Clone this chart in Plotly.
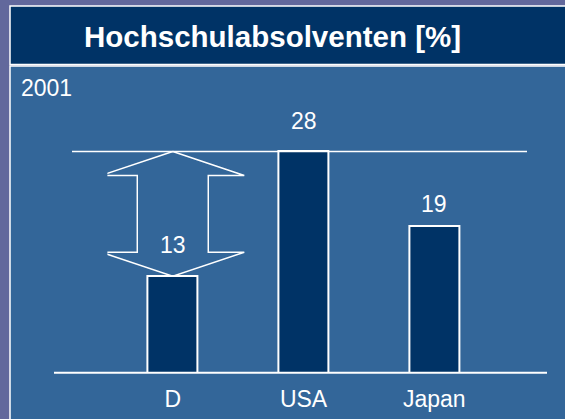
import plotly.graph_objects as go

# ---- data ----
categories = ["D", "USA", "Japan"]
values = [13, 28, 19]
title_text = "Hochschulabsolventen [%]"
year_label = "2001"

# ---- style / layout constants ----
W, H = 565, 419
BG_OUT = "rgb(98,104,156)"
BOX = "#336699"
NAVY = "#003366"
WHITE = "white"
FONT = "Liberation Sans, Arial, sans-serif"
label_shift = {"D": 31, "USA": 30, "Japan": 22}   # value-label offsets above bars (px)

def fx(p):
    return p / W

def fy(p):
    return 1 - p / H

# plot-area geometry (pixels)
x_left_px, x_right_px = 107.4, 499.7
y_bot_px, y_top_px = 372.7, 100.0
y_min = 1.4
px_per_unit = 8.316
y_max = y_min + (y_bot_px - y_top_px) / px_per_unit
px_per_cat = (x_right_px - x_left_px) / 3.0

xs = list(range(len(categories)))

fig = go.Figure()

fig.add_trace(go.Bar(
    x=xs, y=values, width=50 / px_per_cat,
    marker=dict(color=NAVY, line=dict(color=WHITE, width=2)),
    hoverinfo="skip", showlegend=False,
))

# double-headed arrow between D and USA
i_lo = categories.index("D")
i_hi = categories.index("USA")
bot = values[i_lo]
top = values[i_hi]
hh = 24 / px_per_unit          # head height in data units
ww = 71.5 / px_per_cat         # head half width
sw = 35.5 / px_per_cat         # shaft half width
cx = xs[i_lo]
ax = [cx, cx + ww, cx + sw, cx + sw, cx + ww, cx, cx - ww, cx - sw, cx - sw, cx - ww, cx]
ay = [top, top - hh, top - hh, bot + hh, bot + hh, bot, bot + hh, bot + hh, top - hh, top - hh, top]
fig.add_trace(go.Scatter(
    x=ax, y=ay, mode="lines", fill="toself", fillcolor="rgba(0,0,0,0)",
    line=dict(color=WHITE, width=1.5), hoverinfo="skip", showlegend=False,
))

shapes = [
    # title bar
    dict(type="rect", xref="paper", yref="paper", x0=fx(10), x1=fx(575), y0=fy(64.5), y1=fy(6),
         fillcolor=NAVY, line=dict(color=WHITE, width=1.5), layer="below"),
    # main box
    dict(type="rect", xref="paper", yref="paper", x0=fx(10), x1=fx(575), y0=fy(430), y1=fy(66),
         fillcolor=BOX, line=dict(color=WHITE, width=1.5), layer="below"),
    # baseline
    dict(type="line", xref="paper", yref="paper", x0=fx(54), x1=fx(547), y0=fy(y_bot_px), y1=fy(y_bot_px),
         line=dict(color=WHITE, width=2)),
    # reference line at the maximum value
    dict(type="line", xref="paper", yref="y", x0=fx(72), x1=fx(527), y0=max(values), y1=max(values),
         line=dict(color=WHITE, width=1.5)),
]

annotations = [
    dict(text=f"<b>{title_text}</b>", xref="paper", yref="paper", x=fx(272.5), y=fy(36),
         xanchor="center", yanchor="middle", showarrow=False,
         font=dict(family=FONT, size=29.5, color=WHITE)),
    dict(text=year_label, xref="paper", yref="paper", x=fx(18.5), y=fy(88),
         xanchor="left", yanchor="middle", showarrow=False,
         font=dict(family=FONT, size=23, color=WHITE)),
]
for x, c, v in zip(xs, categories, values):
    annotations.append(dict(text=str(v), x=x, y=v, xref="x", yref="y",
                            xanchor="center", yanchor="middle", yshift=label_shift[c], showarrow=False,
                            font=dict(family=FONT, size=23, color=WHITE)))

fig.update_layout(
    width=W, height=H,
    margin=dict(l=0, r=0, t=0, b=0),
    paper_bgcolor=BG_OUT,
    plot_bgcolor="rgba(0,0,0,0)",
    shapes=shapes,
    annotations=annotations,
    bargap=0,
    xaxis=dict(domain=[fx(x_left_px), fx(x_right_px)], range=[-0.5, 2.5],
               tickvals=xs, ticktext=categories, showgrid=False, zeroline=False,
               showline=False, ticks="", ticklabelstandoff=10,
               tickfont=dict(family=FONT, size=23, color=WHITE), fixedrange=True),
    yaxis=dict(domain=[fy(y_bot_px), fy(y_top_px)], range=[y_min, y_max],
               showgrid=False, zeroline=False, showline=False, showticklabels=False,
               ticks="", fixedrange=True),
)

fig.write_html("out.html", config={"displayModeBar": False},
               post_script="document.body.style.margin='0';document.body.style.overflow='hidden';")
